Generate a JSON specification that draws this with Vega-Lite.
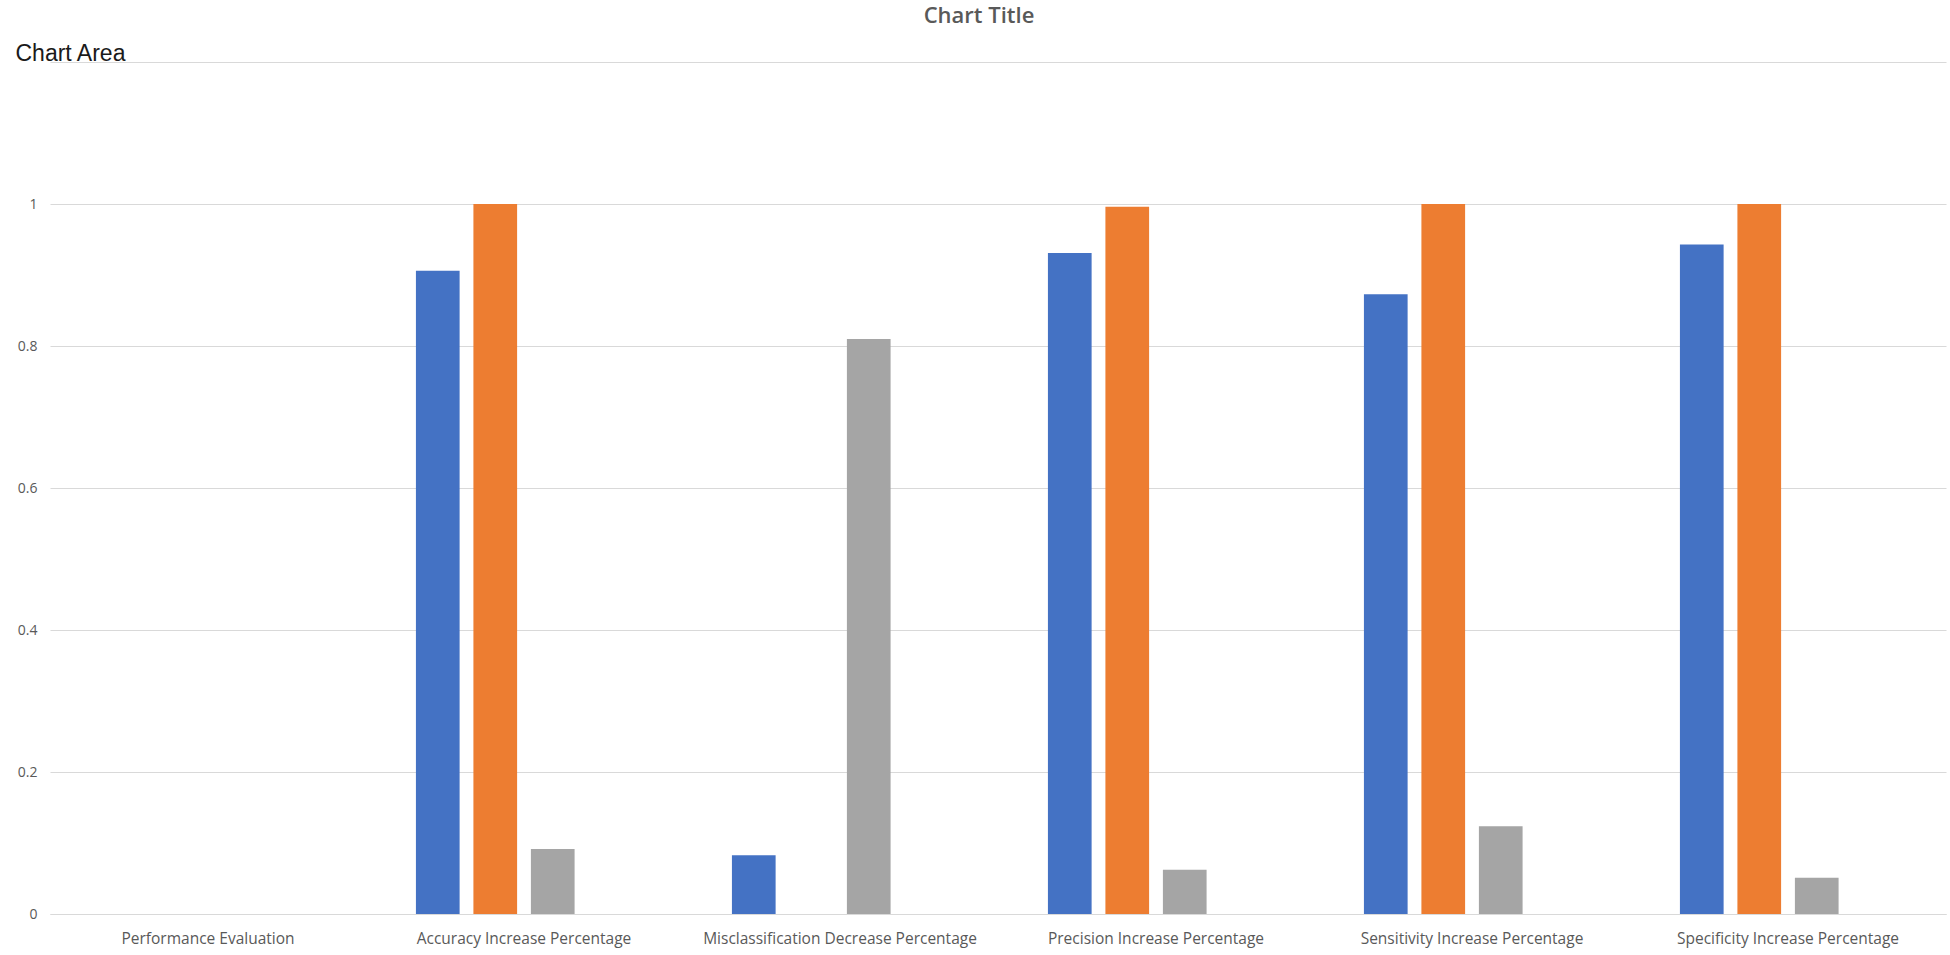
{
  "$schema": "https://vega.github.io/schema/vega-lite/v6.json",
  "autosize": "none",
  "width": 1896,
  "height": 852,
  "padding": {"left": 50, "top": 62, "right": 4, "bottom": 41},
  "background": "white",
  "title": {
    "text": "Chart Title",
    "anchor": "middle",
    "dx": -19,
    "offset": 14,
    "font": "Open Sans",
    "fontSize": 22,
    "fontWeight": 600,
    "color": "#595959"
  },
  "data": {
    "values": [
      {"metric": "Accuracy Increase Percentage", "series": "Series1", "value": 0.906},
      {"metric": "Accuracy Increase Percentage", "series": "Series2", "value": 1.0},
      {"metric": "Accuracy Increase Percentage", "series": "Series3", "value": 0.0915},
      {"metric": "Misclassification Decrease Percentage", "series": "Series1", "value": 0.0827},
      {"metric": "Misclassification Decrease Percentage", "series": "Series3", "value": 0.81},
      {"metric": "Precision Increase Percentage", "series": "Series1", "value": 0.931},
      {"metric": "Precision Increase Percentage", "series": "Series2", "value": 0.996},
      {"metric": "Precision Increase Percentage", "series": "Series3", "value": 0.0624},
      {"metric": "Sensitivity Increase Percentage", "series": "Series1", "value": 0.873},
      {"metric": "Sensitivity Increase Percentage", "series": "Series2", "value": 1.0},
      {"metric": "Sensitivity Increase Percentage", "series": "Series3", "value": 0.1235},
      {"metric": "Specificity Increase Percentage", "series": "Series1", "value": 0.943},
      {"metric": "Specificity Increase Percentage", "series": "Series2", "value": 1.0},
      {"metric": "Specificity Increase Percentage", "series": "Series3", "value": 0.0511}
    ]
  },
  "mark": {"type": "bar"},
  "encoding": {
    "x": {
      "field": "metric",
      "type": "nominal",
      "scale": {
        "domain": ["Performance Evaluation", "Accuracy Increase Percentage", "Misclassification Decrease Percentage", "Precision Increase Percentage", "Sensitivity Increase Percentage", "Specificity Increase Percentage"],
        "paddingInner": 0.316,
        "paddingOuter": 0.158
      },
      "axis": {
        "title": null,
        "labelAngle": 0,
        "labelFont": "Open Sans",
        "labelFontSize": 15.5,
        "labelLimit": 0,
        "labelColor": "#595959",
        "labelPadding": 17,
        "ticks": false,
        "domain": true,
        "domainColor": "#d9d9d9",
        "domainWidth": 1
      }
    },
    "xOffset": {
      "field": "series",
      "type": "nominal",
      "scale": {"domain": ["Series1", "Series2", "Series3", "Series4"], "paddingInner": 0.24, "paddingOuter": 0}
    },
    "y": {
      "field": "value",
      "type": "quantitative",
      "scale": {"domain": [0, 1.2], "nice": false},
      "axis": {
        "values": [0, 0.2, 0.4, 0.6, 0.8, 1, 1.2],
        "labelExpr": "datum.value > 1.1 ? '' : format(datum.value, '~g')",
        "domain": false,
        "ticks": false,
        "grid": true,
        "gridColor": "#d9d9d9",
        "gridWidth": 1,
        "labelFont": "Open Sans",
        "labelFontSize": 14,
        "labelColor": "#595959",
        "labelPadding": 13,
        "title": "Chart Area",
        "titleAngle": 0,
        "titleX": -35,
        "titleY": -9,
        "titleAlign": "left",
        "titleBaseline": "middle",
        "titleFont": "Liberation Sans",
        "titleFontSize": 23,
        "titleFontWeight": "normal",
        "titleColor": "#1a1a1a"
      }
    },
    "color": {
      "field": "series",
      "type": "nominal",
      "scale": {"domain": ["Series1", "Series2", "Series3", "Series4"], "range": ["#4472C4", "#ED7D31", "#A5A5A5", "#FFC000"]},
      "legend": null
    }
  },
  "config": {
    "view": {"stroke": null}
  }
}
